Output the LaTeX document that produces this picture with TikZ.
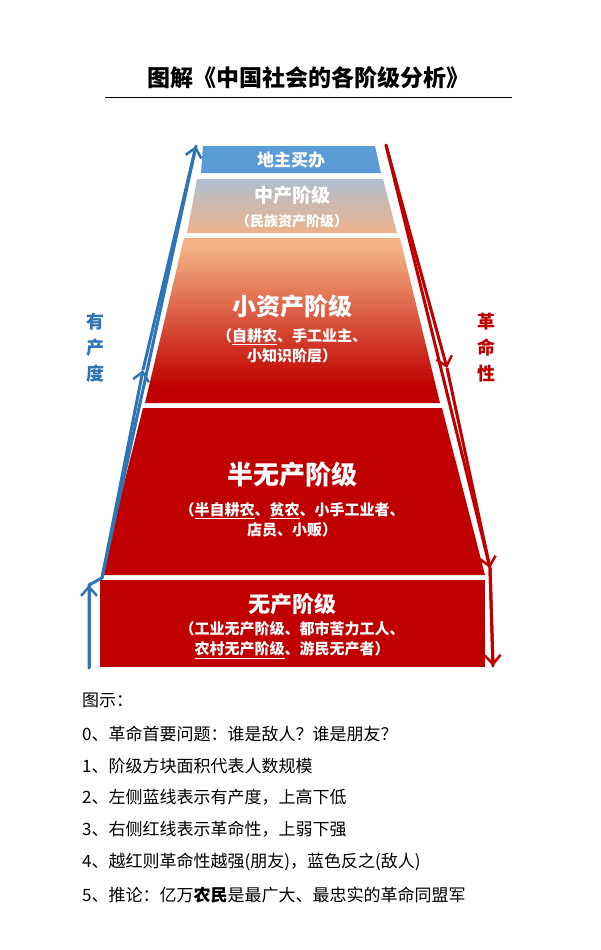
\documentclass[tikz,border=0pt]{standalone}
\usepackage{fontspec}
\setmainfont{Noto Sans CJK SC}
\usetikzlibrary{arrows.meta,decorations.markings}
\definecolor{redc}{HTML}{C00000}
\definecolor{peach}{HTML}{F4B183}
\definecolor{lblue}{HTML}{9DC3E6}
\definecolor{mblue}{HTML}{5B9BD5}
\definecolor{lineblue}{HTML}{2E75B6}
\pgfdeclareverticalshading{xiaoshade}{100bp}{color(0bp)=(redc); color(30bp)=(redc); color(72bp)=(peach); color(100bp)=(peach)}
\pgfdeclareverticalshading{zhongshade}{100bp}{color(0bp)=(peach); color(20bp)=(peach); color(90bp)=(lblue); color(100bp)=(lblue)}
\tikzset{
  lab/.style={text=white,font=\bfseries,align=center,inner sep=0pt},
  sidelab/.style={font=\bfseries\fontsize{18}{26}\selectfont,align=center},
  leg/.style={anchor=west,font=\fontsize{17}{20}\selectfont,inner sep=0pt},
  chev/.style={-{Straight Barb[length=9pt,width=16pt,line width=2.5pt]}},
}
\begin{document}
\begin{tikzpicture}[x=1pt,y=-1pt]
\useasboundingbox (0,0) rectangle (600,950);
\node[font=\bfseries\fontsize{23}{26}\selectfont] (title) at (308,78) {图解《中国社会的各阶级分析》};
\draw[line width=1pt] (105,97) -- (512,97);
% blocks
\fill[mblue] (203,146) -- (375,146) -- (381,173) -- (201,173) -- cycle;
\shade[shading=zhongshade] (197,179) -- (383,179) -- (397,233) -- (187,233) -- cycle;
\shade[shading=xiaoshade] (184,238) -- (400,238) -- (440,403) -- (145,403) -- cycle;
\fill[redc] (143,408) -- (442,408) -- (485,575) -- (101,575) -- cycle;
\fill[redc] (100,580) rectangle (485,667);
\node[lab,font=\bfseries\fontsize{17}{20}\selectfont] (dizhu) at (291,160) {地主买办};
\node[lab,font=\bfseries\fontsize{19}{22}\selectfont] (zhong) at (292,195) {中产阶级};
\node[lab,font=\bfseries\fontsize{14}{18}\selectfont] (zhongs) at (292,221) {（民族资产阶级）};
\node[lab,font=\bfseries\fontsize{24}{28}\selectfont] (xiao) at (292,306) {小资产阶级};
\node[lab,font=\bfseries\fontsize{15}{20}\selectfont] (xiaos) at (292,346) {（\underline{自耕农}、手工业主、\\小知识阶层）};
\node[lab,font=\bfseries\fontsize{26}{30}\selectfont] (ban) at (292,475) {半无产阶级};
\node[lab,font=\bfseries\fontsize{15}{20}\selectfont] (bans) at (292,520) {（\underline{半自耕农}、\underline{贫农}、小手工业者、\\店员、小贩）};
\node[lab,font=\bfseries\fontsize{22}{26}\selectfont] (wu) at (292,604) {无产阶级};
\node[lab,font=\bfseries\fontsize{15}{20}\selectfont] (wus) at (292,640) {（工业无产阶级、都市苦力工人、\\\underline{农村无产阶级}、游民无产者）};
% blue line
\coordinate (b0) at (89,668);
\coordinate (b1) at (89,585);
\coordinate (b2) at (102,578);
\coordinate (bm) at (143,370);
\coordinate (b3) at (196,146);
\draw[lineblue,line width=3pt,line cap=round] (b0) -- (b1) -- (b2) -- (b3);
\draw[lineblue,line width=3pt,chev] (b0) -- (b1);
\draw[lineblue,line width=3pt,chev] (b2) -- (bm);
\draw[lineblue,line width=3pt,chev] (bm) -- (b3);
% red line
\coordinate (r0) at (386,145);
\coordinate (rm) at (447,368);
\coordinate (r1) at (490,568);
\coordinate (r2) at (493,666);
\draw[redc,line width=3pt,line cap=round] (r0) -- (r1) -- (r2);
\draw[redc,line width=3pt,chev] (r0) -- (rm);
\draw[redc,line width=3pt,chev] (rm) -- (r1);
\draw[redc,line width=3pt,chev] (r1) -- (r2);
\node[sidelab,text=lineblue] (you) at (95,348) {有\\产\\度};
\node[sidelab,text=redc] (ge) at (486,348) {革\\命\\性};
% legend
\node[leg] (l0) at (82,700) {图示：};
\node[leg] (l1) at (82,734) {0、革命首要问题：谁是敌人？谁是朋友？};
\node[leg] (l2) at (82,766) {1、阶级方块面积代表人数规模};
\node[leg] (l3) at (82,797) {2、左侧蓝线表示有产度，上高下低};
\node[leg] (l4) at (82,829) {3、右侧红线表示革命性，上弱下强};
\node[leg] (l5) at (82,862) {4、越红则革命性越强(朋友)，蓝色反之(敌人)};
\node[leg] (l6) at (82,895) {5、推论：亿万\textbf{农民}是最广大、最忠实的革命同盟军};
\end{tikzpicture}
\end{document}
